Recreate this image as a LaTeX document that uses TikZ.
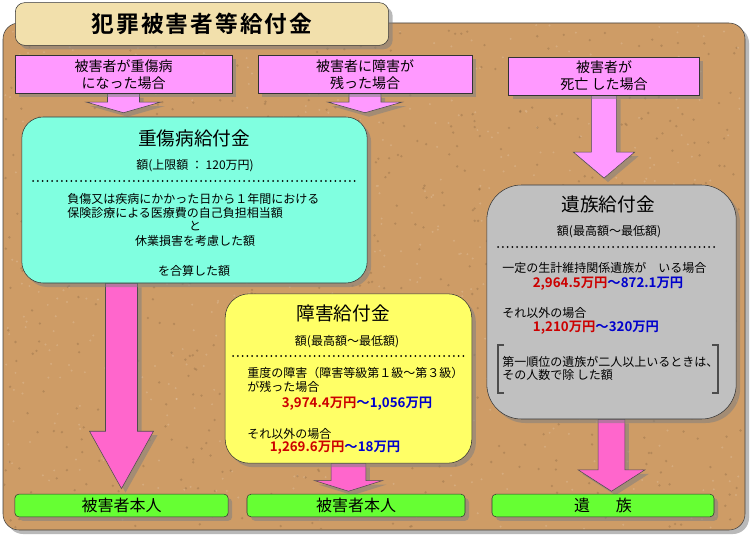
\documentclass[tikz,border=0pt]{standalone}
\usepackage{fontspec}
\setmainfont{Noto Sans CJK JP}[BoldFont={Noto Sans CJK JP Bold}]
\usetikzlibrary{calc,shadows}

\definecolor{cork}{RGB}{206,156,102}
\definecolor{plate}{RGB}{242,224,172}
\definecolor{casepink}{RGB}{255,153,255}
\definecolor{arrowpink}{RGB}{255,102,204}
\definecolor{aqua}{RGB}{128,255,224}
\definecolor{lemon}{RGB}{255,255,102}
\definecolor{silver}{RGB}{192,192,192}
\definecolor{leaf}{RGB}{102,255,51}
\definecolor{numred}{RGB}{204,0,0}
\definecolor{numblue}{RGB}{0,0,204}

\pgfdeclarelayer{board}
\pgfdeclarelayer{arrows}
\pgfsetlayers{board,arrows,main}

\tikzset{
  shade/.style={drop shadow={opacity=0.55, shadow xshift=3pt, shadow yshift=-3pt}},
  infobox/.style={draw=black!80, shade, inner sep=0pt},
  casebox/.style={draw=black!80, fill=casepink, shade, inner sep=0pt,
    minimum height=28.5pt, align=center, font=\fontsize{10.5pt}{12.75pt}\selectfont},
  whobox/.style={draw=black!80, fill=leaf, shade, rounded corners=3pt, inner sep=0pt,
    minimum height=17pt, font=\fontsize{12pt}{14pt}\selectfont},
  btitle/.style={inner sep=0pt, font=\fontsize{14pt}{16pt}\selectfont},
  bline/.style={inner sep=0pt, font=\fontsize{9pt}{11pt}\selectfont},
  bnum/.style={inner sep=0pt, font=\fontsize{10pt}{12pt}\selectfont\bfseries},
  dotrule/.style={line width=1.5pt, dash pattern=on 0pt off 3.6pt, line cap=round},
  blockarrow/.style n args={4}{fill=#4, draw=black!70, shade, to path={
    let \p1=(\tikztostart), \p2=(\tikztotarget) in
    (\x1-#1,\y1) -- (\x1-#1,\y2+#3) -- (\x1-#2,\y2+#3) -- (\x1,\y2)
    -- (\x1+#2,\y2+#3) -- (\x1+#1,\y2+#3) -- (\x1+#1,\y1) -- cycle}}
}

\begin{document}
\begin{tikzpicture}[x=0.75pt, y=-0.75pt]
\useasboundingbox (0,0) rectangle (755,538);

% cork board
\begin{pgfonlayer}{board}
  \fill[cork, draw=black!75, rounded corners=12pt, shade] (3,23) rectangle (745,530);
  \begin{scope}
    \clip[rounded corners=12pt] (4,24) rectangle (744,529);
    \pgfmathsetseed{11}
    \foreach \k in {1,...,700} {
      \fill[cork!65!black, opacity=0.35] (rnd*740+4,rnd*506+24) circle (1.3);
      \fill[cork!55!white, opacity=0.35] (rnd*740+4,rnd*506+24) circle (1.1);
    }
  \end{scope}
\end{pgfonlayer}

% title plate
\node[draw=black!80, fill=plate, shade, rounded corners=7pt, minimum width=280pt,
      minimum height=32pt, font=\fontsize{17pt}{20pt}\selectfont\bfseries] (title)
      at (202,24) {\addfontfeature{LetterSpace=9}犯罪被害者等給付金};

% cases
\node[casebox, minimum width=163pt] (case1) at (123.5,74.5) {被害者が重傷病\\になった場合};
\node[casebox, minimum width=160.5pt] (case2) at (365,74.5) {被害者に障害が\\残った場合};
\node[casebox, minimum width=143pt] (case3) at (604,76) {被害者が\\死亡 した場合};

% 重傷病給付金
\node[infobox, fill=aqua, rounded corners=16pt, minimum width=259pt, minimum height=124.5pt]
      (jsb) at (194.5,200) {};
\node[btitle] (jsbt) at (194,138) {重傷病給付金};
\node[bline] (jsb1) at (195,166) {額(上限額 ： 120万円)};
\draw[dotrule] (33,181) -- (357,181);
\node[bline, anchor=west] (jsb2) at (67,199) {負傷又は疾病にかかった日から１年間における};
\node[bline, anchor=west] (jsb3) at (67,213) {保険診療による医療費の自己負担相当額};
\node[bline] (jsb4) at (195,226) {と};
\node[bline] (jsb5) at (195,241) {休業損害を考慮した額};
\node[bline] (jsb6) at (194,271) {を合算した額};

% 障害給付金
\node[infobox, fill=lemon, rounded corners=18pt, minimum width=185pt, minimum height=127pt]
      (sgb) at (348.5,378.5) {};
\node[btitle] (sgbt) at (343,313) {障害給付金};
\node[bline] (sgb1) at (347,342) {額(最高額～最低額)};
\draw[dotrule] (233,356) -- (468,356);
\node[bline, anchor=west] (sgb2) at (247,373) {重度の障害（障害等級第１級～第３級）};
\node[bline, anchor=west] (sgb3) at (247,387) {が残った場合};
\node[bnum] (sgb4) at (357,404) {\textcolor{numred}{3,974.4万円}\textcolor{numblue}{～1,056万円}};
\node[bline, anchor=west] (sgb5) at (247,434) {それ以外の場合};
\node[bnum] (sgb6) at (335,448) {\textcolor{numred}{1,269.6万円}\textcolor{numblue}{～18万円}};

% 遺族給付金
\node[infobox, fill=silver, rounded corners=26pt, minimum width=187pt, minimum height=175.5pt]
      (izb) at (611.5,302) {};
\node[btitle] (izbt) at (608,204) {遺族給付金};
\node[bline] (izb1) at (609,232) {額(最高額～最低額)};
\draw[dotrule] (498,247) -- (718,247);
\node[bline, anchor=west] (izb2) at (502,268) {一定の生計維持関係遺族が　いる場合};
\node[bnum] (izb3) at (608,284) {\textcolor{numred}{2,964.5万円}\textcolor{numblue}{～872.1万円}};
\node[bline, anchor=west] (izb4) at (502,313) {それ以外の場合};
\node[bnum] (izb5) at (596,328) {\textcolor{numred}{1,210万円}\textcolor{numblue}{～320万円}};
\draw[black!70, line width=0.8pt] (504,345) -- (498,345) -- (498,393) -- (504,393);
\draw[black!70, line width=0.8pt] (712,345) -- (718,345) -- (718,393) -- (712,393);
\node[bline, anchor=west] (izb6) at (502,362) {第一順位の遺族が二人以上いるときは、};
\node[bline, anchor=west] (izb7) at (502,375) {その人数で除 した額};

% recipients
\node[whobox, minimum width=160pt] (who1) at (121.5,505.5) {被害者本人};
\node[whobox, minimum width=163.5pt] (who2) at (356,505.5) {被害者本人};
\node[whobox, minimum width=166.5pt] (who3) at (603,505.5) {遺\hspace{1.6em}族};

% block arrows
\begin{pgfonlayer}{arrows}
  \draw[blockarrow={12pt}{28pt}{8pt}{casepink}] (case1.south) to ([yshift=3pt]case1.south |- jsb.north);
  \draw[blockarrow={12pt}{28pt}{8pt}{casepink}] (case2.south) to ([yshift=3pt]case2.south |- jsb.north);
  \draw[blockarrow={9.5pt}{23pt}{19.5pt}{casepink}] (case3.south) to ([yshift=5pt]case3.south |- izb.north);
  \draw[blockarrow={12pt}{24pt}{43pt}{arrowpink}] (jsb.south -| who1.north) to ([yshift=4pt]who1.north);
  \draw[blockarrow={13pt}{25.5pt}{8pt}{arrowpink}] (sgb.south) to ([yshift=2pt]sgb.south |- who2.north);
  \draw[blockarrow={10pt}{25pt}{16pt}{arrowpink}] (izb.south) to ([yshift=2pt]izb.south |- who3.north);
\end{pgfonlayer}
\end{tikzpicture}
\end{document}
